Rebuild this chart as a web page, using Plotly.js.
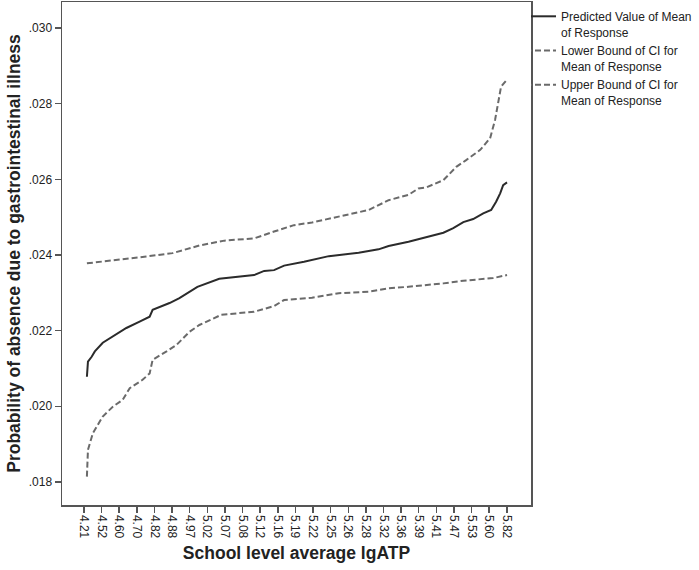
<!DOCTYPE html>
<html>
<head>
<meta charset="utf-8">
<script src="https://cdn.plot.ly/plotly-3.0.1.min.js"></script>
<style>
  html, body { margin: 0; padding: 0; background: #fff; }
  #chart { width: 699px; height: 570px; }
</style>
</head>
<body>
<div id="chart"></div>
<script>
// Category tick labels (school level average lgATP)
const categories = ['4.21','4.52','4.60','4.70','4.82','4.88','4.97','5.02','5.07','5.08','5.12','5.16','5.19','5.22','5.25','5.26','5.28','5.32','5.36','5.39','5.41','5.47','5.53','5.60','5.82'];

// Predicted value of mean of response (x in category-index units)
const predX = [0.17,0.23,0.44,0.62,1.07,1.64,2.41,3.16,3.73,3.90,4.86,5.42,5.99,6.44,7.68,9.66,10.23,10.79,11.36,12.49,13.90,15.59,16.72,17.29,18.42,19.27,20.40,20.96,21.53,22.09,22.66,23.11,23.39,23.62,23.79,24.01];
const predY = [0.02078,0.02118,0.02131,0.02145,0.02168,0.02184,0.02207,0.02224,0.02237,0.02255,0.02273,0.02286,0.02303,0.02316,0.02337,0.02347,0.02358,0.02360,0.02372,0.02382,0.02397,0.02406,0.02415,0.02424,0.02435,0.02446,0.02459,0.02471,0.02487,0.02495,0.02510,0.02519,0.02541,0.02563,0.02585,0.02592];

// Lower bound of CI for mean of response
const lowerX = [0.17,0.23,0.51,1.07,1.64,2.20,2.60,3.33,3.73,3.90,4.69,5.25,5.99,6.55,7.80,9.66,10.79,11.36,12.94,14.46,16.16,17.29,18.42,19.44,20.40,21.53,22.66,23.22,24.01];
const lowerY = [0.01814,0.01885,0.01929,0.01973,0.01999,0.02017,0.02048,0.02070,0.02087,0.02123,0.02145,0.02162,0.02197,0.02215,0.02242,0.02250,0.02265,0.02281,0.02287,0.02299,0.02303,0.02312,0.02316,0.02320,0.02325,0.02332,0.02336,0.02339,0.02347];

// Upper bound of CI for mean of response
const upperX = [0.17,1.64,3.54,5.03,5.99,6.55,7.97,9.66,10.79,11.92,12.94,14.46,16.16,17.29,18.42,18.98,19.44,20.40,21.13,21.69,22.49,23.05,23.33,23.50,23.67,24.01];
const upperY = [0.02378,0.02385,0.02396,0.02405,0.02418,0.02425,0.02438,0.02444,0.02462,0.02479,0.02486,0.02501,0.02519,0.02545,0.02559,0.02576,0.02579,0.02598,0.02633,0.02651,0.02678,0.02709,0.02757,0.02801,0.02845,0.02864];

// Y tick labels
const yTickVals = [0.018,0.020,0.022,0.024,0.026,0.028,0.030];
const yTickText = ['.018','.020','.022','.024','.026','.028','.030'];

const FONT = 'Liberation Sans, Arial, sans-serif';

const traces = [
  { x: predX, y: predY, type: 'scatter', mode: 'lines',
    name: 'Predicted Value of Mean<br>of Response',
    line: { color: '#2b2b2b', width: 2 } },
  { x: lowerX, y: lowerY, type: 'scatter', mode: 'lines',
    name: 'Lower Bound of CI for<br>Mean of Response',
    line: { color: '#6a6a6a', width: 2, dash: '6px,3px' } },
  { x: upperX, y: upperY, type: 'scatter', mode: 'lines',
    name: 'Upper Bound of CI for<br>Mean of Response',
    line: { color: '#6a6a6a', width: 2, dash: '6px,3px' } }
];

const layout = {
  width: 699, height: 570,
  margin: { l: 62, r: 166, t: 2, b: 65 },
  paper_bgcolor: '#fff', plot_bgcolor: '#fff',
  font: { family: FONT, size: 12, color: '#222' },
  showlegend: true,
  legend: {
    x: 1.0, xanchor: 'left', y: 1.0, yanchor: 'top',
    font: { family: FONT, size: 12, color: '#222' },
    valign: 'top', tracegroupgap: 0, indentation: -10,
    bgcolor: 'rgba(0,0,0,0)'
  },
  xaxis: {
    range: [-1.243, 25.37],
    tickmode: 'array',
    tickvals: categories.map((_, i) => i),
    ticktext: categories,
    tickangle: 90,
    ticks: 'outside', ticklen: 6, tickwidth: 1.5, tickcolor: '#555',
    tickfont: { family: FONT, size: 12, color: '#222' },
    showgrid: false, zeroline: false,
    showline: true, linecolor: '#555', linewidth: 1.5, mirror: true,
    title: { text: '<b>School level average lgATP</b>', font: { family: FONT, size: 17.5, color: '#222' }, standoff: 9 }
  },
  yaxis: {
    range: [0.01739, 0.03069],
    tickmode: 'array',
    tickvals: yTickVals,
    ticktext: yTickText,
    ticks: 'outside', ticklen: 6, tickwidth: 1.5, tickcolor: '#555',
    tickfont: { family: FONT, size: 12, color: '#222' },
    showgrid: false, zeroline: false,
    showline: true, linecolor: '#555', linewidth: 1.5, mirror: true,
    title: { text: '<b>Probability of absence due to gastrointestinal illness</b>', font: { family: FONT, size: 17.5, color: '#222' }, standoff: 3 }
  }
};

Plotly.newPlot('chart', traces, layout, { displayModeBar: false, staticPlot: true });
</script>
</body>
</html>
